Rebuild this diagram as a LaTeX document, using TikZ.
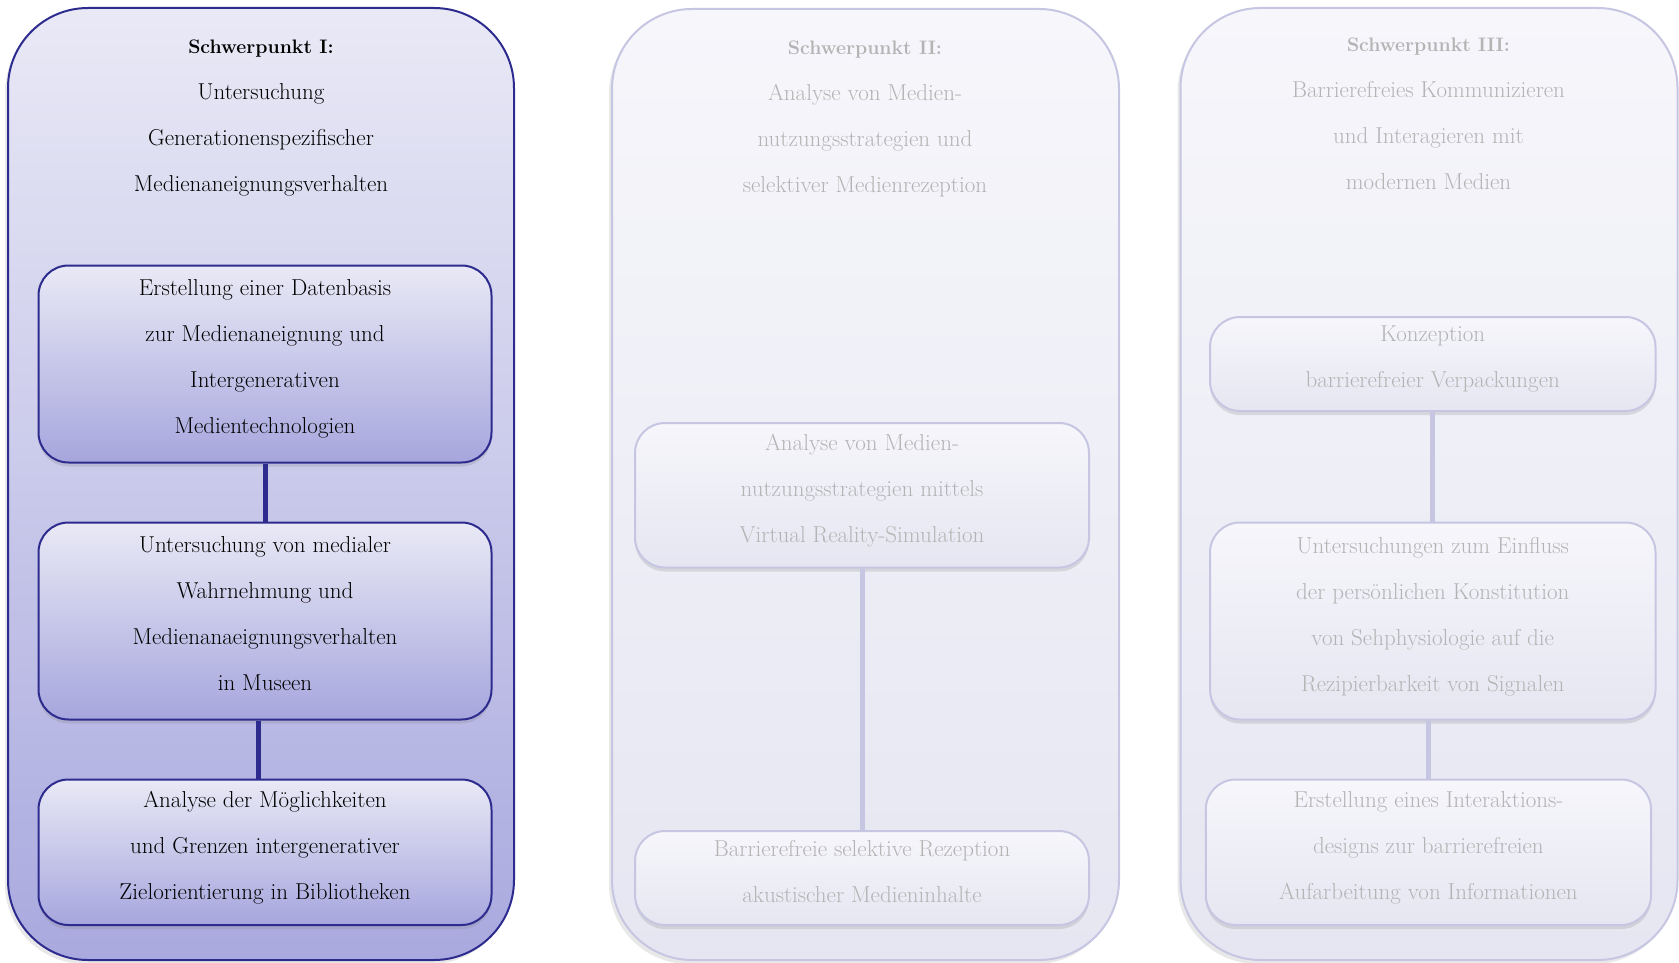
\documentclass[tikz,border=0pt]{standalone}
\usepackage{tikz}
\usetikzlibrary{shadows,calc}

\definecolor{navy}{HTML}{2D2C8E}
\definecolor{lavtop}{HTML}{E9E9F6}
\definecolor{lavbot}{HTML}{A9A9DF}
\definecolor{pale}{HTML}{C6C6E3}
\definecolor{paletop}{HTML}{F6F6FB}
\definecolor{palebot}{HTML}{E6E6F2}
\definecolor{greytxt}{HTML}{B4B4B4}

\newcommand{\sptitle}[1]{{\fontsize{19.5pt}{46pt}\selectfont\bfseries #1}}

\tikzset{
  txt/.style={align=center,font=\fontsize{23pt}{46pt}\selectfont},
  panel/.style={draw,line width=2pt,rounded corners=80pt,inner sep=0pt,
    drop shadow={shadow xshift=-3pt,shadow yshift=-4pt,opacity=.18}},
  panelon/.style={panel,draw=navy,top color=lavtop,bottom color=lavbot},
  paneloff/.style={panel,draw=pale,top color=paletop,bottom color=palebot},
  stepbox/.style={txt,draw,line width=2pt,rounded corners=30pt,inner sep=0pt,text depth=14pt,
    drop shadow={shadow xshift=0pt,shadow yshift=-4pt,opacity=.22}},
  boxon/.style={stepbox,draw=navy,top color=lavtop,bottom color=lavbot!105!lavtop},
  boxoff/.style={stepbox,draw=pale,top color=paletop,bottom color=palebot,text=greytxt},
  linkon/.style={draw=navy,line width=5pt},
  linkoff/.style={draw=pale,line width=5pt}
}

\begin{document}
\begin{tikzpicture}[x=1pt,y=-1pt]
\useasboundingbox (0,0) rectangle (1679,963);
%panels
\node[panelon,minimum width=506pt,minimum height=952pt] (p1) at (261,484) {};
\node[paneloff,minimum width=507pt,minimum height=951pt] (p2) at (865.5,484.5) {};
\node[paneloff,minimum width=497pt,minimum height=952pt] (p3) at (1429,484) {};
%titles
\node[txt] (t1) at (261,118) {\sptitle{Schwerpunkt I:}\\Untersuchung\\Generationenspezifischer\\Medienaneignungsverhalten};
\node[txt,text=greytxt] (t2) at (865,119) {\sptitle{Schwerpunkt II:}\\Analyse von Medien-\\nutzungsstrategien und\\selektiver Medienrezeption};
\node[txt,text=greytxt] (t3) at (1428.5,114) {\sptitle{Schwerpunkt III:}\\Barrierefreies Kommunizieren\\und Interagieren mit\\modernen Medien};
%schwerpunkt I
\node[boxon,minimum width=453pt,minimum height=197pt] (a) at (265,364) {Erstellung einer Datenbasis\\zur Medienaneignung und\\Intergenerativen\\Medientechnologien};
\node[boxon,minimum width=453pt,minimum height=197pt] (b) at (265,621) {Untersuchung von medialer\\Wahrnehmung und\\Medienanaeignungsverhalten\\in Museen};
\node[boxon,minimum width=453pt,minimum height=145.5pt] (c) at (265,852.25) {Analyse der M\"oglichkeiten\\und Grenzen intergenerativer\\Zielorientierung in Bibliotheken};
\draw[linkon] (a.south) -- (b.north);
\draw[linkon] ([xshift=-7pt]b.south) -- ([xshift=-7pt]c.north);
%schwerpunkt II
\node[boxoff,minimum width=454pt,minimum height=144.5pt] (d) at (862,495.25) {Analyse von Medien-\\nutzungsstrategien mittels\\Virtual Reality-Simulation};
\node[boxoff,minimum width=454pt,minimum height=94pt] (e) at (862,878) {Barrierefreie selektive Rezeption\\akustischer Medieninhalte};
\draw[linkoff] (d.south) -- (e.north);
%schwerpunkt III
\node[boxoff,minimum width=445.5pt,minimum height=94pt] (f) at (1432.75,364) {Konzeption\\barrierefreier Verpackungen};
\node[boxoff,minimum width=445.5pt,minimum height=197pt] (g) at (1432.75,621) {Untersuchungen zum Einfluss\\der pers\"onlichen Konstitution\\von Sehphysiologie auf die\\Rezipierbarkeit von Signalen};
\node[boxoff,minimum width=445.3pt,minimum height=145.5pt] (h) at (1428.4,852.25) {Erstellung eines Interaktions-\\designs zur barrierefreien\\Aufarbeitung von Informationen};
\draw[linkoff] (f.south) -- (g.north);
\draw[linkoff] (g.south -| h) -- (h.north);
\end{tikzpicture}
\end{document}
